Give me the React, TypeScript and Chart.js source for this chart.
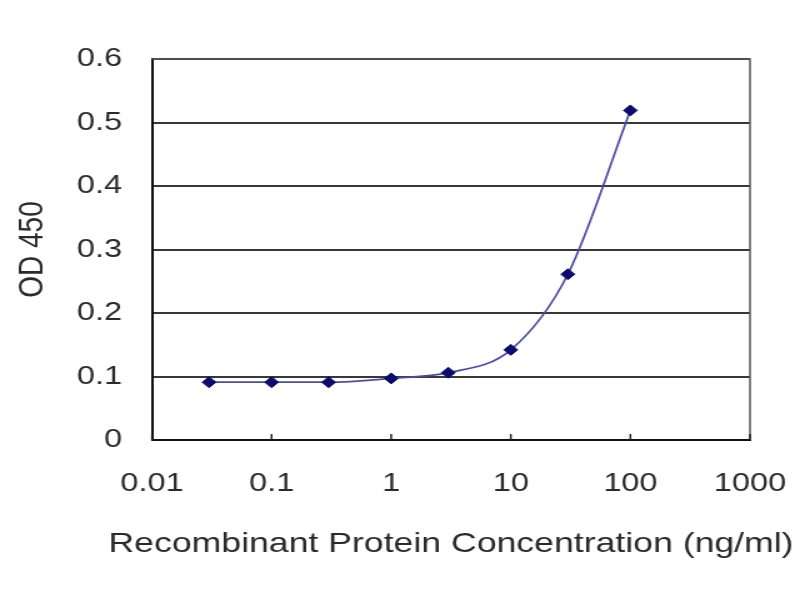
import React, { useEffect, useRef } from 'react';
import { Chart, registerables } from 'chart.js';

Chart.register(...registerables);

const concentrations = [0.03, 0.1, 0.3, 1, 3, 10, 30, 100];
const odValues = [0.091, 0.091, 0.091, 0.097, 0.106, 0.142, 0.261, 0.519];
const xTickValues = [0.01, 0.1, 1, 10, 100, 1000];
const xTickLabels = ['0.01', '0.1', '1', '10', '100', '1000'];
const yTickLabels = ['0', '0.1', '0.2', '0.3', '0.4', '0.5', '0.6'];
const xTitle = 'Recombinant Protein Concentration (ng/ml)';
const yTitle = 'OD 450';

const FONT = "'Liberation Sans', Arial, sans-serif";
const TEXT = '#2a2a2a';

// The reference picture is horizontally stretched; the chart is drawn on a
// narrower canvas and shown at 800px wide.
const CANVAS_W = 640;
const CANVAS_H = 600;

const framePlugin = {
  id: 'frame',
  afterDatasetsDraw(chart: any) {
    const { ctx, chartArea } = chart;
    const { left, right, top, bottom } = chartArea;
    ctx.save();
    ctx.strokeStyle = '#555555';
    ctx.lineWidth = 1.5;
    ctx.beginPath();
    ctx.moveTo(left, top);
    ctx.lineTo(right, top);
    ctx.lineTo(right, bottom);
    ctx.stroke();
    const xs = chart.scales.x;
    ctx.strokeStyle = '#222222';
    ctx.lineWidth = 1.5;
    xTickValues.forEach((v) => {
      const px = xs.getPixelForValue(v);
      ctx.beginPath();
      ctx.moveTo(px, bottom);
      ctx.lineTo(px, bottom - 6);
      ctx.stroke();
    });
    ctx.restore();
  },
};

// x-axis title drawn without Chart.js's maxWidth squeeze (the title is wider
// than the plot area in the reference).
const xTitlePlugin = {
  id: 'xTitle',
  afterDraw(chart: any) {
    const { ctx } = chart;
    const xs = chart.scales.x;
    ctx.save();
    ctx.font = `28.5px ${FONT}`;
    ctx.fillStyle = TEXT;
    ctx.textAlign = 'center';
    ctx.textBaseline = 'middle';
    ctx.fillText(xTitle, (xs.left + xs.right) / 2, xs.bottom - 56);
    ctx.restore();
  },
};

export default function App() {
  const canvasRef = useRef<HTMLCanvasElement | null>(null);

  useEffect(() => {
    document.body.style.margin = '0';
    const canvas = canvasRef.current;
    if (!canvas) return;
    const chart = new Chart(canvas, {
      type: 'line',
      data: {
        datasets: [
          {
            data: concentrations.map((c, i) => ({ x: c, y: odValues[i] })),
            borderColor: '#4c4ca4',
            borderWidth: 1.7,
            backgroundColor: '#0c0c6e',
            pointBackgroundColor: '#0c0c6e',
            pointBorderColor: '#0c0c6e',
            pointStyle: 'rectRot',
            pointRadius: 5.5,
            pointBorderWidth: 1,
            cubicInterpolationMode: 'monotone',
            fill: false,
          },
        ],
      },
      options: {
        responsive: false,
        animation: false,
        layout: { padding: { left: 0, right: 40, top: 59, bottom: 0 } },
        plugins: {
          legend: { display: false },
          tooltip: { enabled: false },
        },
        scales: {
          x: {
            type: 'logarithmic',
            min: 0.01,
            max: 1000,
            afterBuildTicks: (scale: any) => {
              scale.ticks = xTickValues.map((v) => ({ value: v }));
            },
            afterFit: (scale: any) => {
              scale.height = 160;
              scale.paddingLeft = 0;
              scale.paddingRight = 0;
            },
            grid: { drawOnChartArea: false, drawTicks: false },
            border: { display: true, color: '#111111', width: 2 },
            ticks: {
              autoSkip: false,
              maxRotation: 0,
              minRotation: 0,
              padding: 28,
              color: TEXT,
              font: { family: FONT, size: 26 },
              callback: (_v: any, i: number) => xTickLabels[i],
            },
            title: { display: false },
          },
          y: {
            type: 'linear',
            min: 0,
            max: 0.6,
            afterFit: (scale: any) => {
              scale.width = 121.6;
            },
            grid: { color: '#383838', lineWidth: 1.9, drawTicks: false },
            border: { display: true, color: '#111111', width: 2 },
            ticks: {
              stepSize: 0.1,
              padding: 24,
              color: TEXT,
              font: { family: FONT, size: 26 },
              callback: (_v: any, i: number) => yTickLabels[i],
            },
            title: {
              display: true,
              text: yTitle,
              color: TEXT,
              font: { family: FONT, size: 28 },
              padding: { top: 9, bottom: 0 },
            },
          },
        },
      },
      plugins: [framePlugin, xTitlePlugin],
    } as any);
    return () => chart.destroy();
  }, []);

  return (
    <div style={{ width: 800, height: 600, background: '#ffffff' }}>
      <canvas
        ref={canvasRef}
        width={CANVAS_W}
        height={CANVAS_H}
        style={{ width: '800px', height: '600px', display: 'block' }}
      />
    </div>
  );
}
